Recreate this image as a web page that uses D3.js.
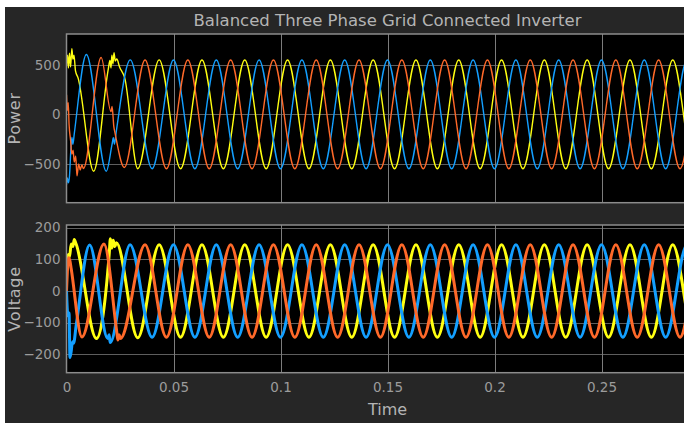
<!DOCTYPE html>
<html>
<head>
  <meta charset="utf-8" />
  <title>Balanced Three Phase Grid Connected Inverter</title>
  <script type="text/javascript" src="https://cdn.jsdelivr.net/npm/d3@7/dist/d3.min.js"></script>
  <style>
    body{
      margin: 0;
      background: white;
      overflow: hidden;
    }
    text{
      font-family: "DejaVu Sans", sans-serif;
    }
  </style>
</head>
<body>
  <script type="text/javascript">
    // - - - - - CONSTANTS - - - - - //
    var w = 684;
    var h = 423;

    // - - - - - DATA - - - - - //
    var titleText = "Balanced Three Phase Grid Connected Inverter";
    var timeTicks = [0, 0.05, 0.1, 0.15, 0.2, 0.25, 0.3];
    var timeLabels = [0, 0.05, 0.1, 0.15, 0.2, 0.25];
    var powerTicks = [-500, 0, 500];
    var voltageTicks = [-200, -100, 0, 100, 200];
    var powerDomain = [-891, 813];
    var voltageDomain = [-258, 208];

    //signal extrema, [time, value]
    var powerYellow = [[0,500],[0.0005,600],[0.0009,470],[0.0014,620],[0.0019,480],[0.0025,665],[0.003,560],[0.0035,600],[0.0042,440],[0.0054,370],
      [0.0127,-573],[0.0195,455],[0.0203,545],[0.0208,470],[0.0212,600],[0.0217,510],[0.0222,625],[0.0228,540],[0.0235,560],[0.0248,480],[0.0272,370],
      [0.0333,-548],[0.0433,552],[0.0533,-548],[0.0633,550],[0.0733,-548],[0.0833,550],[0.0933,-548],[0.1033,550],[0.1133,-548],[0.1233,550],
      [0.1333,-548],[0.1433,550],[0.1533,-548],[0.1633,550],[0.1733,-548],[0.1833,550],[0.1933,-548],[0.2033,550],[0.2133,-548],[0.2233,550],
      [0.2333,-548],[0.2433,550],[0.2533,-548],[0.2633,550],[0.2733,-548],[0.2833,550],[0.2933,-548],[0.3033,550]];
    var powerBlue = [[0,-710],[0.0004,-640],[0.0009,-690],[0.0014,-620],[0.002,-370],[0.0025,-232],[0.003,-300],[0.0036,-200],
      [0.0093,606],[0.0186,-573],[0.0213,-300],[0.0219,-235],[0.0224,-300],[0.0232,-180],[0.0298,552],
      [0.04,-548],[0.05,550],[0.06,-548],[0.07,550],[0.08,-548],[0.09,550],[0.1,-548],[0.11,550],[0.12,-548],[0.13,550],
      [0.14,-548],[0.15,550],[0.16,-548],[0.17,550],[0.18,-548],[0.19,550],[0.2,-548],[0.21,550],[0.22,-548],[0.23,550],
      [0.24,-548],[0.25,550],[0.26,-548],[0.27,550],[0.28,-548],[0.29,550],[0.3,-548]];
    var powerRed = [[0,200],[0.0005,40],[0.0008,120],[0.0012,-100],[0.0019,-260],[0.0025,-400],[0.0031,-360],[0.0036,-480],[0.0043,-420],
      [0.0049,-620],[0.0057,-500],[0.0064,-560],[0.0072,-510],[0.0079,-545],[0.0162,575],[0.0208,30],[0.0213,80],[0.0221,-120],[0.0228,-200],
      [0.027,-535],[0.0367,550],[0.0467,-548],[0.0567,550],[0.0667,-548],[0.0767,550],[0.0867,-548],[0.0967,550],[0.1067,-548],[0.1167,550],
      [0.1267,-548],[0.1367,550],[0.1467,-548],[0.1567,550],[0.1667,-548],[0.1767,550],[0.1867,-548],[0.1967,550],[0.2067,-548],[0.2167,550],
      [0.2267,-548],[0.2367,550],[0.2467,-548],[0.2567,550],[0.2667,-548],[0.2767,550],[0.2867,-548],[0.2967,550],[0.3067,-548]];

    var voltageYellow = [[0,60],[0.0008,115],[0.0014,108],[0.0022,148],[0.003,140],[0.0036,162],[0.0045,148],
      [0.014,-150],[0.02,120],[0.0205,165],[0.0212,135],[0.0218,160],[0.0226,140],[0.0233,152],
      [0.0333,-148],[0.0433,146],[0.0533,-146],[0.0633,146],[0.0733,-146],[0.0833,146],[0.0933,-146],[0.1033,146],[0.1133,-146],[0.1233,146],
      [0.1333,-146],[0.1433,146],[0.1533,-146],[0.1633,146],[0.1733,-146],[0.1833,146],[0.1933,-146],[0.2033,146],[0.2133,-146],[0.2233,146],
      [0.2333,-146],[0.2433,146],[0.2533,-146],[0.2633,146],[0.2733,-146],[0.2833,146],[0.2933,-146],[0.3033,146]];
    var voltageBlue = [[0,0],[0.0007,-80],[0.0012,-70],[0.0016,-210],[0.0022,-190],[0.0028,-160],[0.0033,-165],[0.0045,-110],
      [0.0108,145],[0.0193,-150],[0.0199,-138],[0.0204,-163],[0.0297,146],
      [0.04,-146],[0.05,146],[0.06,-146],[0.07,146],[0.08,-146],[0.09,146],[0.1,-146],[0.11,146],[0.12,-146],[0.13,146],
      [0.14,-146],[0.15,146],[0.16,-146],[0.17,146],[0.18,-146],[0.19,146],[0.2,-146],[0.21,146],[0.22,-146],[0.23,146],
      [0.24,-146],[0.25,146],[0.26,-146],[0.27,146],[0.28,-146],[0.29,146],[0.3,-146]];
    var voltageRed = [[0,0],[0.0004,60],[0.001,105],[0.0016,95],[0.0022,70],[0.0072,-145],[0.0175,148],
      [0.0235,-130],[0.024,-155],[0.0246,-138],[0.0252,-150],[0.0367,146],[0.0467,-146],[0.0567,146],[0.0667,-146],[0.0767,146],
      [0.0867,-146],[0.0967,146],[0.1067,-146],[0.1167,146],[0.1267,-146],[0.1367,146],[0.1467,-146],[0.1567,146],[0.1667,-146],
      [0.1767,146],[0.1867,-146],[0.1967,146],[0.2067,-146],[0.2167,146],[0.2267,-146],[0.2367,146],[0.2467,-146],[0.2567,146],
      [0.2667,-146],[0.2767,146],[0.2867,-146],[0.2967,146],[0.3067,-146]];

    // - - - - - COLOURS - - - - - //
    var cYellow = "#ffff11";
    var cBlue = "#139fff";
    var cRed = "#ff6929";

    // - - - - - CANVAS - - - - - //
    var svg = d3.select("body")
      .append("svg")
      .attr("width", w)
      .attr("height", h);

    //figure background
    svg.append("rect")
      .attr("x", 5)
      .attr("y", 7)
      .attr("width", w - 5)
      .attr("height", h - 7)
      .attr("fill", "#262626");

    // - - - - - SCALES - - - - - //
    //axes run past the right edge (picture is cropped)
    var xScale = d3.scaleLinear()
      .domain([0, 0.3])
      .range([66.5, 708.5]);

    var panels = [
      {id: "power", label: "Power", top: 34, bottom: 202.7, domain: powerDomain, ticks: powerTicks,
        series: [[powerYellow, cYellow], [powerBlue, cBlue], [powerRed, cRed]], width: 1.4},
      {id: "voltage", label: "Voltage", top: 225, bottom: 372.7, domain: voltageDomain, ticks: voltageTicks,
        series: [[voltageYellow, cYellow], [voltageBlue, cBlue], [voltageRed, cRed]], width: 3}
    ];

    // - - - - - TITLE - - - - - //
    svg.append("text")
      .text(titleText)
      .attr("x", xScale(0.15))
      .attr("y", 26)
      .attr("text-anchor", "middle")
      .attr("font-size", "16.5px")
      .attr("fill", "#b4b4b4");

    // - - - - - PANELS - - - - - //
    panels.forEach(function(p){
      var yScale = d3.scaleLinear()
        .domain(p.domain)
        .range([p.bottom, p.top]);

      var g = svg.append("g").attr("id", p.id);

      g.append("clipPath")
        .attr("id", "clip-" + p.id)
        .append("rect")
        .attr("x", xScale(0))
        .attr("y", p.top)
        .attr("width", xScale(0.3) - xScale(0))
        .attr("height", p.bottom - p.top);

      //plot background
      g.append("rect")
        .attr("x", xScale(0))
        .attr("y", p.top)
        .attr("width", xScale(0.3) - xScale(0))
        .attr("height", p.bottom - p.top)
        .attr("fill", "black");

      //horizontal grid
      g.selectAll(".hgrid")
        .data(p.ticks)
        .enter()
        .append("line")
        .attr("class", "hgrid")
        .attr("x1", xScale(0))
        .attr("x2", xScale(0.3))
        .attr("y1", function(d){ return Math.round(yScale(d)) + 0.5; })
        .attr("y2", function(d){ return Math.round(yScale(d)) + 0.5; })
        .attr("stroke", "#5e5e5e")
        .attr("stroke-width", 1);

      //vertical grid
      g.selectAll(".vgrid")
        .data(timeTicks.slice(1))
        .enter()
        .append("line")
        .attr("class", "vgrid")
        .attr("x1", function(d){ return Math.round(xScale(d)) + 0.5; })
        .attr("x2", function(d){ return Math.round(xScale(d)) + 0.5; })
        .attr("y1", p.top)
        .attr("y2", p.bottom)
        .attr("stroke", "#7c7c7c")
        .attr("stroke-width", 1);

      //signals
      var line = d3.line()
        .x(function(d){ return xScale(d[0]); })
        .y(function(d){ return yScale(d[1]); })
        .curve(d3.curveMonotoneX);

      g.append("g")
        .attr("clip-path", "url(#clip-" + p.id + ")")
        .selectAll("path")
        .data(p.series)
        .enter()
        .append("path")
        .attr("d", function(d){ return line(d[0]); })
        .attr("fill", "none")
        .attr("stroke", function(d){ return d[1]; })
        .attr("stroke-width", p.width)
        .attr("stroke-linejoin", "round");

      //axes box
      g.append("rect")
        .attr("x", xScale(0))
        .attr("y", p.top)
        .attr("width", xScale(0.3) - xScale(0))
        .attr("height", p.bottom - p.top)
        .attr("fill", "none")
        .attr("stroke", "#8c8c8c")
        .attr("stroke-width", 1.5);

      //y tick labels
      var yAxis = d3.axisLeft(yScale)
        .tickValues(p.ticks)
        .tickSize(0)
        .tickPadding(6)
        .tickFormat(d3.format("d"));
      var ya = g.append("g")
        .attr("transform", "translate(" + xScale(0) + ",0)")
        .call(yAxis);
      ya.select(".domain").remove();
      ya.selectAll("text")
        .attr("font-family", "DejaVu Sans")
        .attr("font-size", "13.5px")
        .attr("fill", "#9c9c9c");

      //y label
      g.append("text")
        .text(p.label)
        .attr("transform", "translate(20," + ((p.top + p.bottom) / 2) + ") rotate(-90)")
        .attr("text-anchor", "middle")
        .attr("font-size", "16px")
        .attr("letter-spacing", "0.8px")
        .attr("fill", "#b4b4b4");
    });

    // - - - - - X AXIS - - - - - //
    //0.3 sits at the cropped right edge, so it has no label
    var xAxis = d3.axisBottom(xScale)
      .tickValues(timeLabels)
      .tickSize(0)
      .tickPadding(10)
      .tickFormat(function(d){ return d3.format("~g")(d); });
    var xa = svg.append("g")
      .attr("transform", "translate(0,372.7)")
      .call(xAxis);
    xa.select(".domain").remove();
    xa.selectAll("text")
      .attr("font-family", "DejaVu Sans")
      .attr("font-size", "13.5px")
      .attr("fill", "#9c9c9c");

    svg.append("text")
      .text("Time")
      .attr("x", xScale(0.15))
      .attr("y", 415)
      .attr("text-anchor", "middle")
      .attr("font-size", "16px")
      .attr("fill", "#b4b4b4");
  </script>
</body>
</html>
